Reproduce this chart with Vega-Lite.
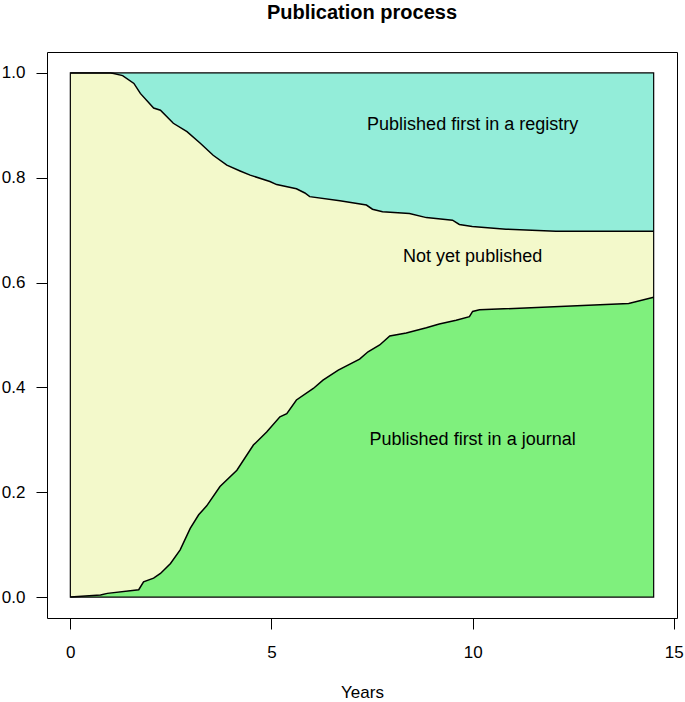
{
  "$schema": "https://vega.github.io/schema/vega-lite/v6.json",
  "autosize": {"type": "none"},
  "padding": {"left": 47, "top": 52, "right": 8, "bottom": 84},
  "width": 630,
  "height": 566,
  "background": "white",
  "config": {
    "font": "Liberation Sans",
    "view": {"stroke": "black", "strokeWidth": 1},
    "axis": {"grid": false, "domain": false, "tickColor": "black", "tickSize": 11, "tickWidth": 1, "labelFont": "Liberation Sans", "labelFontSize": 17, "labelColor": "black", "titleFont": "Liberation Sans", "titleFontSize": 17, "titleFontWeight": "normal", "titleColor": "black"}
  },
  "title": {"text": "Publication process", "font": "Liberation Sans", "fontSize": 20, "fontWeight": "bold", "anchor": "middle", "offset": 29, "color": "black"},
  "datasets": {
    "registry": [
      {"t": 0, "r": 1.0}, {"t": 1.0, "r": 1.0}, {"t": 1.08, "r": 0.999}, {"t": 1.3, "r": 0.995},
      {"t": 1.58, "r": 0.980}, {"t": 1.74, "r": 0.961}, {"t": 2.07, "r": 0.933}, {"t": 2.24, "r": 0.929},
      {"t": 2.56, "r": 0.904}, {"t": 2.90, "r": 0.888}, {"t": 3.23, "r": 0.866}, {"t": 3.55, "r": 0.843},
      {"t": 3.89, "r": 0.824}, {"t": 4.22, "r": 0.813}, {"t": 4.47, "r": 0.805}, {"t": 4.96, "r": 0.793},
      {"t": 5.13, "r": 0.787}, {"t": 5.62, "r": 0.779}, {"t": 5.83, "r": 0.771}, {"t": 5.95, "r": 0.764},
      {"t": 6.70, "r": 0.756}, {"t": 7.36, "r": 0.748}, {"t": 7.51, "r": 0.740}, {"t": 7.76, "r": 0.735},
      {"t": 8.43, "r": 0.732}, {"t": 8.85, "r": 0.724}, {"t": 9.50, "r": 0.719}, {"t": 9.67, "r": 0.711},
      {"t": 9.99, "r": 0.707}, {"t": 10.83, "r": 0.702}, {"t": 12.07, "r": 0.698}, {"t": 14.5, "r": 0.698}
    ],
    "journal": [
      {"t": 0, "j": 0}, {"t": 0.75, "j": 0.004}, {"t": 0.92, "j": 0.007}, {"t": 1.70, "j": 0.014},
      {"t": 1.82, "j": 0.029}, {"t": 2.07, "j": 0.036}, {"t": 2.24, "j": 0.045}, {"t": 2.49, "j": 0.064},
      {"t": 2.73, "j": 0.090}, {"t": 2.98, "j": 0.131}, {"t": 3.19, "j": 0.157}, {"t": 3.39, "j": 0.174},
      {"t": 3.72, "j": 0.211}, {"t": 4.14, "j": 0.242}, {"t": 4.55, "j": 0.290}, {"t": 4.88, "j": 0.315},
      {"t": 5.21, "j": 0.344}, {"t": 5.38, "j": 0.350}, {"t": 5.62, "j": 0.376}, {"t": 6.04, "j": 0.398},
      {"t": 6.28, "j": 0.414}, {"t": 6.66, "j": 0.433}, {"t": 7.19, "j": 0.454}, {"t": 7.40, "j": 0.468},
      {"t": 7.69, "j": 0.481}, {"t": 7.94, "j": 0.498}, {"t": 8.35, "j": 0.504}, {"t": 8.85, "j": 0.514},
      {"t": 9.17, "j": 0.521}, {"t": 9.59, "j": 0.528}, {"t": 9.92, "j": 0.535}, {"t": 10.0, "j": 0.545},
      {"t": 10.17, "j": 0.548}, {"t": 13.88, "j": 0.560}, {"t": 14.5, "j": 0.572}
    ],
    "labels": [
      {"t": 10, "v": 0.891, "label": "Published first in a registry"},
      {"t": 10, "v": 0.640, "label": "Not yet published"},
      {"t": 10, "v": 0.290, "label": "Published first in a journal"}
    ],
    "box": [{"x0": 0, "x1": 14.5, "y0": 0, "y1": 1}]
  },
  "layer": [
    {
      "data": {"name": "box"},
      "mark": {"type": "rect", "fill": "#F3F9CB", "stroke": null},
      "encoding": {
        "x": {"field": "x0", "type": "quantitative", "scale": {"domain": [-0.58, 15.08], "nice": false, "zero": false},
              "axis": {"title": "Years", "values": [0, 5, 10, 15], "format": "d", "labelPadding": 15, "titlePadding": 24}},
        "x2": {"field": "x1"},
        "y": {"field": "y0", "type": "quantitative", "scale": {"domain": [-0.04, 1.04], "nice": false, "zero": false},
              "axis": {"title": null, "values": [0, 0.2, 0.4, 0.6, 0.8, 1.0], "format": ".1f", "labelPadding": 11}},
        "y2": {"field": "y1"}
      }
    },
    {
      "data": {"name": "journal"},
      "mark": {"type": "area", "fill": "#7FF07D", "stroke": null, "interpolate": "linear"},
      "encoding": {
        "x": {"field": "t", "type": "quantitative"},
        "y": {"field": "j", "type": "quantitative"},
        "y2": {"datum": 0}
      }
    },
    {
      "data": {"name": "registry"},
      "mark": {"type": "area", "fill": "#93EDD9", "stroke": null, "interpolate": "linear"},
      "encoding": {
        "x": {"field": "t", "type": "quantitative"},
        "y": {"field": "r", "type": "quantitative"},
        "y2": {"datum": 1}
      }
    },
    {
      "data": {"name": "journal"},
      "mark": {"type": "line", "color": "black", "strokeWidth": 1.5},
      "encoding": {
        "x": {"field": "t", "type": "quantitative"},
        "y": {"field": "j", "type": "quantitative"}
      }
    },
    {
      "data": {"name": "registry"},
      "mark": {"type": "line", "color": "black", "strokeWidth": 1.5},
      "encoding": {
        "x": {"field": "t", "type": "quantitative"},
        "y": {"field": "r", "type": "quantitative"}
      }
    },
    {
      "data": {"name": "box"},
      "mark": {"type": "rect", "fill": null, "fillOpacity": 0, "stroke": "black", "strokeWidth": 1.2},
      "encoding": {
        "x": {"field": "x0", "type": "quantitative"},
        "x2": {"field": "x1"},
        "y": {"field": "y0", "type": "quantitative"},
        "y2": {"field": "y1"}
      }
    },
    {
      "data": {"name": "labels"},
      "mark": {"type": "text", "font": "Liberation Sans", "fontSize": 18, "color": "black", "align": "center", "baseline": "alphabetic"},
      "encoding": {
        "x": {"field": "t", "type": "quantitative"},
        "y": {"field": "v", "type": "quantitative"},
        "text": {"field": "label"}
      }
    }
  ]
}
